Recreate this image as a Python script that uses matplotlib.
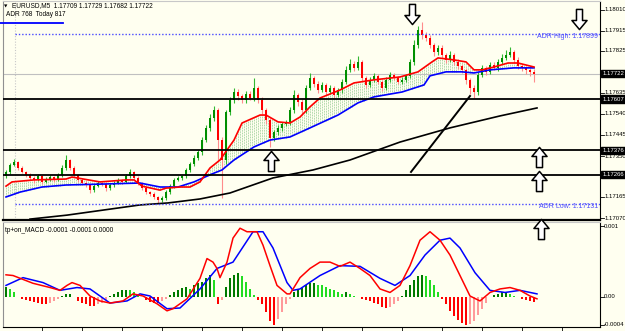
import numpy as np
import matplotlib
matplotlib.use("Agg")
import matplotlib.pyplot as plt
from matplotlib.path import Path
from matplotlib.transforms import blended_transform_factory

# ---------------- data ----------------
symbol_text = "EURUSD,M5  1.17709 1.17729 1.17682 1.17722"
adr_text = "ADR 768  Today 817"
macd_text = "tp+on_MACD -0.0001 -0.0001 0.0000"

open_first = 1.17260
closes = [
    1.17278, 1.17309, 1.17323, 1.17296, 1.17278, 1.17264, 1.17251, 1.17242, 1.17260, 1.17233,
    1.17246, 1.17255, 1.17242, 1.17264, 1.17296, 1.17332, 1.17296, 1.17264, 1.17242, 1.17228,
    1.17219, 1.17196, 1.17214, 1.17228, 1.17223, 1.17205, 1.17219, 1.17228, 1.17242, 1.17233,
    1.17260, 1.17278, 1.17251, 1.17228, 1.17205, 1.17187, 1.17178, 1.17165, 1.17151, 1.17160,
    1.17187, 1.17214, 1.17242, 1.17251, 1.17260, 1.17287, 1.17314, 1.17341, 1.17368, 1.17422,
    1.17477, 1.17522, 1.17558, 1.17422, 1.17332, 1.17549, 1.17603, 1.17639, 1.17621, 1.17603,
    1.17630, 1.17612, 1.17657, 1.17603, 1.17558, 1.17513, 1.17431, 1.17458, 1.17477, 1.17495,
    1.17504, 1.17558, 1.17626, 1.17594, 1.17558, 1.17657, 1.17703, 1.17675, 1.17648, 1.17671,
    1.17639, 1.17657, 1.17626, 1.17648, 1.17685, 1.17739, 1.17766, 1.17748, 1.17775, 1.17703,
    1.17671, 1.17694, 1.17712, 1.17685, 1.17657, 1.17694, 1.17716, 1.17703, 1.17685, 1.17694,
    1.17712, 1.17775, 1.17852, 1.17920, 1.17897, 1.17883, 1.17852, 1.17820, 1.17838, 1.17807,
    1.17784, 1.17807, 1.17775, 1.17757, 1.17739, 1.17694, 1.17657, 1.17639, 1.17716, 1.17748,
    1.17730, 1.17761, 1.17748, 1.17775, 1.17793, 1.17807, 1.17820, 1.17784, 1.17757, 1.17748,
    1.17739, 1.17730, 1.17722,
]
upper_wick_pts = [
    8, 10, 15, 6, 9, 5, 8, 7, 10, 6,
    8, 9, 5, 10, 12, 23, 6, 8, 5, 9,
    7, 6, 10, 8, 5, 9, 7, 8, 10, 6,
    9, 12, 6, 8, 5, 7, 6, 8, 5, 9,
    8, 10, 7, 9, 6, 10, 8, 12, 9, 15,
    12, 18, 20, 10, 15, 10, 14, 18, 12, 10,
    15, 12, 46, 10, 12, 9, 8, 10, 12, 9,
    10, 12, 20, 10, 12, 15, 22, 10, 12, 14,
    9, 12, 10, 8, 15, 18, 20, 12, 25, 10,
    9, 12, 14, 8, 10, 12, 15, 10, 9, 12,
    10, 15, 20, 18, 36, 12, 15, 10, 14, 12,
    9, 15, 10, 12, 8, 10, 9, 12, 15, 12,
    10, 14, 12, 15, 18, 20, 23, 10, 12, 9,
    8, 10, 12,
]
lower_wick_pts = [
    10, 8, 6, 9, 7, 10, 8, 12, 6, 9,
    7, 8, 10, 6, 9, 8, 10, 7, 9, 8,
    10, 13, 8, 6, 9, 12, 7, 8, 6, 10,
    7, 8, 9, 10, 8, 9, 10, 8, 13, 9,
    7, 8, 10, 6, 9, 8, 10, 7, 9, 12,
    10, 15, 12, 90, 172, 20, 12, 15, 18, 12,
    14, 10, 12, 15, 20, 18, 40, 15, 12, 14,
    10, 12, 15, 20, 18, 12, 10, 15, 12, 9,
    12, 10, 14, 9, 12, 10, 8, 12, 10, 15,
    12, 10, 9, 12, 15, 10, 8, 12, 10, 9,
    8, 10, 12, 15, 18, 12, 15, 20, 12, 14,
    12, 10, 15, 12, 14, 20, 25, 27, 15, 10,
    12, 10, 9, 12, 8, 10, 9, 14, 12, 15,
    18, 20, 37,
]

# moving averages (bar index, price)
ma_fast_idx = [0, 1.5, 7, 15, 16.5, 23.5, 30, 32, 34, 38.5, 40, 43.5, 46, 48.5, 51, 53.5, 57, 59,
               63.5, 65, 68, 71, 73.5, 76, 78.5, 83.5, 87, 92, 98.5, 103, 106.5, 108, 112, 115,
               117, 119, 122, 125.5, 128, 132]
ma_fast_val = [1.17214, 1.17233, 1.17242, 1.17246, 1.17255, 1.17233, 1.17242, 1.17242, 1.17214,
               1.17196, 1.17205, 1.17210, 1.17210, 1.17233, 1.17296, 1.17332, 1.17422, 1.17499,
               1.17535, 1.17535, 1.17504, 1.17499, 1.17526, 1.17572, 1.17612, 1.17648, 1.17680,
               1.17694, 1.17707, 1.17730, 1.17775, 1.17793, 1.17784, 1.17775, 1.17739, 1.17739,
               1.17752, 1.17770, 1.17770, 1.17752]
ma_slow_idx = [0, 3.5, 9, 15, 23.5, 33.5, 38.5, 43, 47, 51.5, 54, 57, 62, 66, 71, 76, 83, 88, 92,
               99, 104.5, 106, 110, 114, 117, 121, 127, 132]
ma_slow_val = [1.17165, 1.17187, 1.17210, 1.17219, 1.17223, 1.17228, 1.17210, 1.17210, 1.17233,
               1.17269, 1.17287, 1.17332, 1.17391, 1.17422, 1.17436, 1.17477, 1.17535, 1.17590,
               1.17617, 1.17639, 1.17671, 1.17712, 1.17730, 1.17730, 1.17725, 1.17739, 1.17748,
               1.17748]
ma_long_idx = [6, 15.25, 33.5, 40.5, 48.5, 56, 66.75, 76.75, 86, 98.5, 111, 123.5, 132.75]
ma_long_val = [1.17065, 1.17083, 1.17129, 1.17138, 1.17156, 1.17183, 1.17251, 1.17287, 1.17332,
               1.17413, 1.17477, 1.17531, 1.17567]

# horizontal levels
support_levels = [1.17607, 1.17376, 1.17266]
adr_high = 1.17899
adr_low = 1.17131
bid_price = 1.17722
trend_idx = [101.25, 116]
trend_val = [1.17278, 1.17621]
separator_idx = 2.25

# arrows: (bar index, price)
down_arrows = [(101.5, 1.17992), (143.25, 1.17969)]
up_arrows = [(66.25, 1.17327), (133.25, 1.17345), (133.25, 1.17237), (133.75, 1.17020)]

# price axis
price_ticks = [1.18010, 1.17915, 1.17825, 1.17635, 1.17540, 1.17445, 1.17350, 1.17165, 1.17070]
price_boxes = [1.17722, 1.17607, 1.17376, 1.17266]

# MACD
macd_hist_pts = [
    14, 11, 7, -1, -3, -4, -6, -7, -9, -10,
    -10, -9, -6, -3, 1, 4, 4, -1, -6, -9,
    -11, -13, -13, -11, -9, -4, 1, 4, 7, 9,
    10, 9, 6, 3, -1, -4, -7, -9, -9, -6,
    -3, 3, 7, 10, 13, 14, 11, 16, 19, 21,
    27, 31, 24, -11, -4, 14, 26, 31, 34, 30,
    21, 11, 3, -4, -11, -21, -34, -40, -31, -21,
    -11, -3, 7, 10, 13, 16, 19, 19, 17, 16,
    14, 11, 9, 6, 4, 6, 4, 1, -1, -3,
    -4, -6, -9, -11, -14, -16, -14, -10, -6, 1,
    9, 16, 24, 30, 31, 29, 24, 17, 7, -3,
    -11, -20, -27, -33, -37, -40, -39, -34, -26, -17,
    -9, -1, 3, 4, 6, 6, 4, 1, -1, -3,
    -4, -6, -7,
]
macd_main_idx = [0, 1.75, 6.75, 11, 13.5, 15.25, 16.5, 18.5, 21, 23.5, 26, 29.25, 31.75, 34.25,
                 37.75, 40.25, 41.75, 45.25, 48.5, 50.25, 51.75, 52.75, 53.5, 55.25, 56.75, 58.5,
                 60.25, 62.75, 64.25, 66, 67.75, 70.25, 71, 72.75, 73.5, 76, 78.5, 81, 83.5, 86,
                 88.5, 91, 93.5, 96, 98.5, 101, 103.5, 106, 108.5, 111, 113.5, 116, 118.5, 121,
                 123.5, 126, 128.5, 131, 132.75]
macd_main_val = [0.00031, 0.00030, 0.00019, 0.00013, 0.00009, 0.00016, 0.00020, 0.00016, 0.00001,
                 -0.00006, -0.00009, -0.00006, 0.00004, 0.00001, -0.00010, -0.00020, -0.00017,
                 -0.00003, 0.00026, 0.00054, 0.00049, 0.00040, 0.00027, 0.00049, 0.00083, 0.00097,
                 0.00092, 0.00092, 0.00073, 0.00044, 0.00016, 0.00004, 0.00004, 0.00020, 0.00027,
                 0.00040, 0.00049, 0.00049, 0.00043, 0.00049, 0.00040, 0.00030, 0.00011, 0.00006,
                 0.00016, 0.00044, 0.00080, 0.00092, 0.00080, 0.00059, 0.00030, 0.00001, -0.00006,
                 0.00006, 0.00011, 0.00013, 0.00009, 0.00001, -0.00003]
macd_signal_idx = [0, 4.25, 9.25, 13.5, 17.75, 21, 26, 30.25, 33.5, 36, 40.25, 43.5, 48.5, 52.75,
                   56.75, 61.75, 64.25, 66.75, 70.25, 71.75, 73.5, 78.5, 83.5, 88.5, 93.5, 97.25,
                   101, 104.75, 108.5, 111, 113.5, 117.25, 121, 124.75, 128.5, 132.75]
macd_signal_val = [0.00016, 0.00027, 0.00020, 0.00009, 0.00013, 0.00011, -0.00009, -0.00006,
                   0.00004, 0.00001, -0.00017, -0.00016, 0.00011, 0.00040, 0.00049, 0.00092,
                   0.00092, 0.00069, 0.00020, 0.00009, 0.00011, 0.00030, 0.00044, 0.00043,
                   0.00026, 0.00016, 0.00030, 0.00059, 0.00080, 0.00083, 0.00069, 0.00034,
                   0.00009, 0.00006, 0.00009, 0.00004]
macd_ticks = [0.001, 0.0, -0.0004]
macd_tick_labels = ["0.001", "0.00", "-0.0004"]
time_ticks = [9, 19, 29, 39, 49, 59, 69, 79, 89, 99, 109, 119, 129, 139]

# ---------------- style ----------------
W, H = 625, 331
BG = '#FFFFF0'
FONT = 'Liberation Sans'
FS = 4.7
FSA = 4.3
BULL, BULL_W = '#008f00', '#33b833'
BEAR, BEAR_W = '#ff0000', '#ff8c8c'

fig = plt.figure(figsize=(W / 100, H / 100), dpi=100)
fig.patch.set_facecolor(BG)


def fx(px):
    return px / W


def fy(py):
    return 1 - py / H


ax = fig.add_axes([fx(3), fy(220), fx(600) - fx(3), fy(1) - fy(220)])
axm = fig.add_axes([fx(3), fy(327), fx(600) - fx(3), fy(222) - fy(327)])
ax.set_zorder(3)
axm.set_zorder(1)

XL = (-0.75, 148.5)
for a in (ax, axm):
    a.set_facecolor(BG)
    a.set_xlim(*XL)
    a.set_xticks([])
    a.set_yticks([])
    a.spines['left'].set_color('#909090')
    a.spines['top'].set_color('#c8c8c8')
    a.spines['right'].set_color('black')
    a.spines['bottom'].set_color('black')
ax.spines['bottom'].set_linewidth(1.6)
ax.set_ylim(1.17061, 1.18050)
axm.set_ylim(-0.000429, 0.001058)

# ---------------- main panel ----------------
idx = np.arange(len(closes))
c = np.array(closes)
o = np.array([open_first] + closes[:-1])
hi = np.maximum(o, c) + np.array(upper_wick_pts) * 1e-5
lo = np.minimum(o, c) - np.array(lower_wick_pts) * 1e-5
up = c >= o

# dotted fill between the two MAs (drawn as dotted vertical strokes)
grid = np.arange(0, 132.01, 0.5)
f_int = np.interp(grid, ma_fast_idx, ma_fast_val)
s_int = np.interp(grid, ma_slow_idx, ma_slow_val)
ax.vlines(grid, f_int, s_int, colors='#7dbf7d', lw=0.55, linestyles=(0, (1, 1.1)), zorder=1)

ax.vlines(idx[up], lo[up], hi[up], color=BULL_W, lw=0.8, zorder=2)
ax.vlines(idx[~up], lo[~up], hi[~up], color=BEAR_W, lw=0.8, zorder=2)
body = np.maximum(np.abs(c - o), 0.00002)
ax.bar(idx[up], body[up], bottom=np.minimum(o, c)[up], width=0.45, color=BULL, zorder=3, linewidth=0)
ax.bar(idx[~up], body[~up], bottom=np.minimum(o, c)[~up], width=0.45, color=BEAR, zorder=3, linewidth=0)

ax.plot(ma_long_idx, ma_long_val, color='black', lw=1.2, zorder=4)
ax.plot(ma_slow_idx, ma_slow_val, color='#0000ff', lw=1.2, zorder=4)
ax.plot(ma_fast_idx, ma_fast_val, color='#ff0000', lw=1.2, zorder=4)

ax.axhline(bid_price, color='#c0c0c0', lw=0.8, zorder=1)
for lv in support_levels:
    ax.axhline(lv, color='black', lw=1.3, zorder=5)
for lv in (adr_high, adr_low):
    ax.hlines(lv, 2.25, XL[1], color='#4a4aff', lw=1.0, linestyles=(0, (1, 1.4)), zorder=5)
ax.axvline(separator_idx, color='#c8c8c8', lw=0.8, ls=(0, (1, 1.5)), zorder=0)
ax.plot(trend_idx, trend_val, color='black', lw=1.4, zorder=6)

# arrows
up_path = Path([(0, 1), (0.75, 0.1), (0.3, 0.1), (0.3, -1), (-0.3, -1), (-0.3, 0.1),
                (-0.75, 0.1), (0, 1)], closed=True)
down_path = Path([(x, -y) for x, y in up_path.vertices], closed=True)
for (xi, yv) in up_arrows:
    ax.plot([xi], [yv], marker=up_path, ms=14.5, mfc='white', mec='black', mew=1.1,
            clip_on=False, zorder=10)
for (xi, yv) in down_arrows:
    ax.plot([xi], [yv], marker=down_path, ms=14.5, mfc='white', mec='black', mew=1.1,
            clip_on=False, zorder=10)

# texts
fig.text(fx(4), fy(6), '\u25BC', fontsize=3.2, va='center', ha='left', family='DejaVu Sans', zorder=10)
fig.text(fx(12), fy(6), symbol_text, fontsize=FS, family=FONT, va='center', ha='left', zorder=10)
fig.text(fx(6), fy(15), adr_text, fontsize=FS, family=FONT, va='center', ha='left', zorder=10)
fig.add_artist(plt.Line2D([fx(0), fx(63)], [fy(22.5), fy(22.5)], color='#0000ff', lw=1.3, zorder=10))
trans = blended_transform_factory(ax.transAxes, ax.transData)
ax.text(0.997, adr_high - 0.00009, 'ADR High: 1.17899', transform=trans, color='#5050ff',
        fontsize=5.0, family=FONT, ha='right', va='center')
ax.text(0.997, adr_low - 0.00009, 'ADR Low: 1.17131', transform=trans, color='#5050ff',
        fontsize=5.0, family=FONT, ha='right', va='center')

# price axis
for p in price_ticks:
    ax.plot([1, 1.006], [p, p], transform=trans, color='black', lw=0.6, clip_on=False)
    ax.text(1.007, p, f'{p:.5f}', transform=trans, fontsize=FSA, family=FONT,
            va='center', ha='left', clip_on=False)
for p in price_boxes:
    ax.text(1.004, p, f'{p:.5f}', transform=trans, fontsize=FSA, family=FONT, color='white',
            va='center', ha='left', clip_on=False, zorder=20,
            bbox=dict(boxstyle='square,pad=0.2', facecolor='black', edgecolor='black'))

# ---------------- MACD panel ----------------
h = np.array(macd_hist_pts) * 1e-5
prev = np.concatenate([[h[0]], h[:-1]])
cols = []
for v, pv in zip(h, prev):
    if v >= 0:
        cols.append('#007a00' if v >= pv else '#22dd22')
    else:
        cols.append('#ff0000' if v <= pv else '#ff9a9a')
axm.bar(idx, h, width=0.5, color=cols, linewidth=0, zorder=2)
axm.plot(macd_signal_idx, macd_signal_val, color='#0000ff', lw=1.1, zorder=3)
axm.plot(macd_main_idx, macd_main_val, color='#ff0000', lw=1.1, zorder=4)
axm.text(0.004, 0.955, macd_text, transform=axm.transAxes, fontsize=FS, family=FONT,
         va='top', ha='left')
transm = blended_transform_factory(axm.transAxes, axm.transData)
for v, lab in zip(macd_ticks, macd_tick_labels):
    axm.plot([1, 1.006], [v, v], transform=transm, color='black', lw=0.6, clip_on=False)
    axm.text(1.007, v, lab, transform=transm, fontsize=FSA, family=FONT,
             va='center', ha='left', clip_on=False)
for t in time_ticks:
    axm.plot([t, t], [0, -0.05], transform=blended_transform_factory(axm.transData, axm.transAxes),
             color='black', lw=0.6, clip_on=False)

fig.savefig('out.png', dpi=100, facecolor=BG)
